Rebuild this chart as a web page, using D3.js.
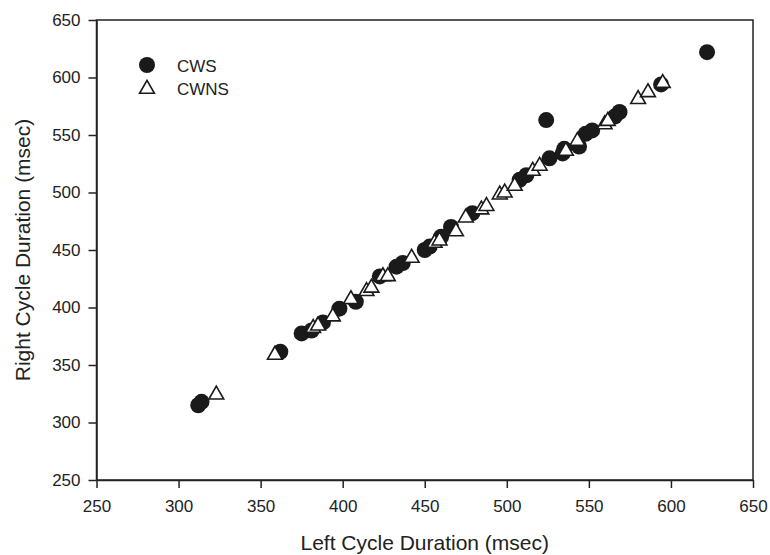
<!DOCTYPE html>
<html>
<head>
<meta charset="utf-8">
<script src="https://cdn.jsdelivr.net/npm/d3@7"></script>
<style>
  body { margin: 0; background: #fff; }
  text { font-family: "Liberation Sans", Arial, sans-serif; fill: #222; }
</style>
</head>
<body>
<script>
const w = 770;
const h = 555;

// CWS (filled circles)
const cwsLeft  = [312, 314, 362, 375, 381, 388, 398, 408, 422.6, 432.8, 436.6, 450, 453, 460, 466, 479, 507.8, 511.9, 524, 526, 534, 535, 544, 548, 552, 565.7, 568.7, 594, 622];
const cwsRight = [315, 318, 361.5, 377.5, 380, 387, 399, 405, 427, 435.5, 438.7, 450, 453, 461.5, 470, 482, 511, 515, 563, 529.7, 534, 538, 540, 551, 554, 566, 570, 594, 622];

// CWNS (open triangles)
const cwnsLeft  = [323, 358.7, 382, 385, 394, 405, 414.5, 417.5, 424.5, 427.5, 442, 456, 459, 469, 475, 484.5, 487.6, 495.7, 498.7, 504.8, 515.8, 520, 536, 543, 559.6, 561.5, 580, 586, 595];
const cwnsRight = [325, 359.6, 383, 385, 393, 408, 415, 418, 428, 428, 444, 457, 459, 467, 479, 486, 489, 499, 500.7, 506.5, 519.6, 524, 537, 545.6, 560, 563, 582, 588, 596];

const ticks = [250, 300, 350, 400, 450, 500, 550, 600, 650];

const cws = cwsLeft.map((d, i) => ({x: d, y: cwsRight[i]}));
const cwns = cwnsLeft.map((d, i) => ({x: d, y: cwnsRight[i]}));

const xScale = d3.scaleLinear().domain([250, 650]).range([96.5, 753]);
const yScale = d3.scaleLinear().domain([250, 650]).range([480, 20]);

const svg = d3.select("body")
  .append("svg")
  .attr("width", w)
  .attr("height", h);

// frame
svg.append("rect")
  .attr("x", xScale(250))
  .attr("y", yScale(650))
  .attr("width", xScale(650) - xScale(250))
  .attr("height", yScale(250) - yScale(650))
  .attr("fill", "none")
  .attr("stroke", "#222")
  .attr("stroke-width", 1.5);

const xAxis = d3.axisBottom(xScale).tickValues(ticks).tickSize(8).tickSizeOuter(0).tickPadding(12);
const yAxis = d3.axisLeft(yScale).tickValues(ticks).tickSize(8).tickSizeOuter(0).tickPadding(8);

const gx = svg.append("g")
  .attr("transform", "translate(0," + yScale(250) + ")")
  .call(xAxis);
const gy = svg.append("g")
  .attr("transform", "translate(" + xScale(250) + ",0)")
  .call(yAxis);

[gx, gy].forEach(g => {
  g.select(".domain").attr("stroke", "#222").attr("stroke-width", 1.5);
  g.selectAll(".tick line").attr("stroke", "#222").attr("stroke-width", 1.5);
  g.selectAll(".tick text").style("font-size", "17px").attr("fill", "#222");
});

svg.selectAll("circle.cws")
  .data(cws)
  .enter()
  .append("circle")
  .attr("class", "cws")
  .attr("cx", d => xScale(d.x))
  .attr("cy", d => yScale(d.y))
  .attr("r", 8)
  .attr("fill", "#1a1a1a");

const tri = d3.symbol().type(d3.symbolTriangle).size(95);

svg.selectAll("path.cwns")
  .data(cwns)
  .enter()
  .append("path")
  .attr("class", "cwns")
  .attr("d", tri)
  .attr("transform", d => "translate(" + xScale(d.x) + "," + (yScale(d.y) + 1) + ")")
  .attr("fill", "#fff")
  .attr("stroke", "#1a1a1a")
  .attr("stroke-width", 1.6);

// legend
svg.append("circle").attr("cx", 147).attr("cy", 65).attr("r", 8).attr("fill", "#1a1a1a");
svg.append("path").attr("d", tri).attr("transform", "translate(147,89)")
  .attr("fill", "#fff").attr("stroke", "#1a1a1a").attr("stroke-width", 1.6);
svg.append("text").attr("x", 177).attr("y", 72).style("font-size", "17px").text("CWS");
svg.append("text").attr("x", 177).attr("y", 95).style("font-size", "17px").text("CWNS");

// axis titles
svg.append("text")
  .attr("x", (xScale(250) + xScale(650)) / 2)
  .attr("y", 550)
  .attr("text-anchor", "middle")
  .style("font-size", "21px")
  .text("Left Cycle Duration (msec)");

svg.append("text")
  .attr("transform", "translate(30," + (yScale(450)) + ") rotate(-90)")
  .attr("text-anchor", "middle")
  .style("font-size", "21px")
  .text("Right Cycle Duration (msec)");
</script>
</body>
</html>
